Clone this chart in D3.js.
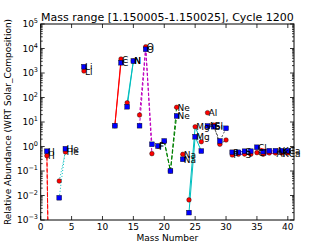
<!DOCTYPE html>
<html><head><meta charset="utf-8">
<script src="https://cdn.jsdelivr.net/npm/d3@7"></script>
<style>body{margin:0;background:#fff}svg{display:block}text{font-family:"DejaVu Sans",sans-serif}</style>
</head><body><svg id="c" width="327" height="245"></svg>
<script>
const masses   = [1,2,3,4,7,12,13,14,15,16,17,18,19,20,21,22,23,24,25,26,27,28,29,30,31,32,33,34,35,36,37,38,39,40];
const elements = ["H","H","He","He","Li","C","C","N","N","O","O","O","F","Ne","Ne","Ne","Na","Mg","Mg","Mg","Al","Si","Si","Si","P","S","S","S","Cl","Ar","Cl","Ar","K","Ca"];
const redValues  = [0.42,1e-18,0.039,0.6,1204,7.0,3727,61,3100,19.3,11840,0.51,1.02,1.6,0.1,39.8,0.48,0.0066,6.4,1.57,24,7.5,1.23,1.84,0.45,0.48,0.49,0.48,0.56,0.48,0.54,0.54,0.54,0.54];
const blueValues = [0.64,1e-18,0.0081,0.81,1807,7.06,2630,42,3090,7.06,9270,1.23,1.05,1.68,0.1,17.6,0.30,0.002,2.51,0.65,6.87,6.43,1.68,5.53,0.58,0.58,0.64,0.64,0.93,0.62,0.67,0.67,0.67,0.67];
const xTicks = [0,5,10,15,20,25,30,35,40];
const yExps = [-3,-2,-1,0,1,2,3,4,5];
const titleText = "Mass range [1.150005-1.150025], Cycle 1200";
const xLabel = "Mass Number";
const yLabel = "Relative Abundance (WRT Solar_Composition)";
// line style per element
const lineStyle = {
  H:["#ff0000","4,2"], He:["#00bfbf","1,2"], C:["#ff0000",null], N:["#00bfbf",null],
  O:["#bf00bf","3,2"], Ne:["#008000","4,2"], Mg:["#00bfbf",null], Si:["#555555","2,2"],
  S:["#0000ff",null], Cl:["#ff0000",null], Ar:["#bf00bf",null]
};

const svg = d3.select("#c");
const L=40.7,R=294,T=24,B=220;
const x = d3.scaleLinear().domain([0,41]).range([L,R]);
const y = d3.scaleLog().domain([1e-3,1e5]).range([B,T]);

svg.append("defs").append("clipPath").attr("id","clip").append("rect")
  .attr("x",L).attr("y",T).attr("width",R-L).attr("height",B-T);

const rows = masses.map((m,i)=>({m,el:elements[i],r:redValues[i],b:blueValues[i]}));
const groups = d3.groups(rows,d=>d.el);
const plot = svg.append("g").attr("clip-path","url(#clip)");

const lineR = d3.line().x(d=>x(d.m)).y(d=>y(d.r));
const lineB = d3.line().x(d=>x(d.m)).y(d=>y(d.b));
groups.forEach(([el,pts])=>{
  if(pts.length<2||!lineStyle[el]) return;
  const [col,dash]=lineStyle[el];
  [lineR,lineB].forEach(ln=>{
    plot.append("path").attr("d",ln(pts)).attr("fill","none").attr("stroke",col)
      .attr("stroke-width",1).attr("stroke-dasharray",dash);
  });
});
plot.selectAll("circle.r").data(rows).join("circle").attr("class","r")
  .attr("cx",d=>x(d.m)).attr("cy",d=>y(d.r)).attr("r",2.3)
  .attr("fill","#ff0000").attr("stroke","#000").attr("stroke-width",0.4);
plot.selectAll("rect.b").data(rows).join("rect").attr("class","b")
  .attr("x",d=>x(d.m)-2.4).attr("y",d=>y(d.b)-2.4).attr("width",4.8).attr("height",4.8)
  .attr("fill","#0000ff").attr("stroke","#000").attr("stroke-width",0.4);

// element labels at max isotope of each series
groups.forEach(([el,pts])=>{
  ["r","b"].forEach(k=>{
    const mx = pts.reduce((a,c)=>c[k]>a[k]?c:a);
    const yy=y(mx[k]);
    if(yy<T||yy>B) return;
    svg.append("text").attr("x",x(mx.m)+1).attr("y",yy+3.5).attr("font-size",9).text(el);
  });
});

// frame
svg.append("rect").attr("x",L).attr("y",T).attr("width",R-L).attr("height",B-T)
  .attr("fill","none").attr("stroke","#000").attr("stroke-width",1);

// ticks
const tk = svg.append("g").attr("stroke","#000").attr("stroke-width",0.8);
xTicks.forEach(v=>{
  tk.append("line").attr("x1",x(v)).attr("x2",x(v)).attr("y1",B).attr("y2",B-4);
  tk.append("line").attr("x1",x(v)).attr("x2",x(v)).attr("y1",T).attr("y2",T+4);
  svg.append("text").attr("x",x(v)).attr("y",B+9.5).attr("font-size",9).attr("text-anchor","middle").text(v);
});
yExps.forEach(e=>{
  const yy=y(Math.pow(10,e));
  tk.append("line").attr("x1",L).attr("x2",L+4).attr("y1",yy).attr("y2",yy);
  tk.append("line").attr("x1",R).attr("x2",R-4).attr("y1",yy).attr("y2",yy);
  if(e<5){
    for(let k=2;k<10;k++){
      const ym=y(k*Math.pow(10,e));
      tk.append("line").attr("x1",L).attr("x2",L+2).attr("y1",ym).attr("y2",ym);
      tk.append("line").attr("x1",R).attr("x2",R-2).attr("y1",ym).attr("y2",ym);
    }
  }
  const t=svg.append("text").attr("x",38).attr("y",yy+3.3).attr("font-size",9).attr("text-anchor","end");
  t.append("tspan").text("10");
  t.append("tspan").attr("dy",-4).attr("font-size",6.5).text(e<0?"\u2212"+(-e):String(e));
});

svg.append("text").attr("x",(L+R)/2).attr("y",20.5).attr("font-size",11).attr("text-anchor","middle").text(titleText);
svg.append("text").attr("x",(L+R)/2).attr("y",241).attr("font-size",9).attr("text-anchor","middle").text(xLabel);
svg.append("text").attr("transform",`translate(11,${(T+B)/2}) rotate(-90)`).attr("font-size",9)
  .attr("text-anchor","middle").attr("font-family","Liberation Sans, Arial, sans-serif").text(yLabel);
</script></body></html>
